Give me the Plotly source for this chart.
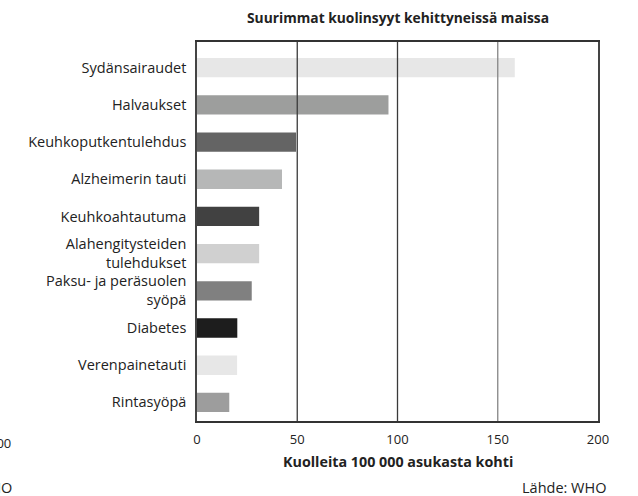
import plotly.graph_objects as go

categories = [
    "Sydänsairaudet",
    "Halvaukset",
    "Keuhkoputkentulehdus",
    "Alzheimerin tauti",
    "Keuhkoahtautuma",
    "Alahengitysteiden<br>tulehdukset",
    "Paksu- ja peräsuolen<br>syöpä",
    "Diabetes",
    "Verenpainetauti",
    "Rintasyöpä",
]
values = [158.5, 95.5, 49.4, 42.4, 31.0, 31.0, 27.3, 20.1, 20.0, 16.1]
colors = ["#e7e7e7", "#9d9e9d", "#646464", "#b6b7b7", "#414141",
          "#d0d0d0", "#808080", "#1d1d1d", "#e7e7e7", "#9d9d9d"]
x_ticks = [0, 50, 100, 150, 200]
grid_colors = {50: "#3a3a3a", 100: "#3a3a3a", 150: "#858585"}

title = "Suurimmat kuolinsyyt kehittyneissä maissa"
x_title = "Kuolleita 100 000 asukasta kohti"
source = "Lähde: WHO"

FONT = "Open Sans"

fig = go.Figure(go.Bar(
    x=values, y=categories, orientation="h",
    marker=dict(color=colors, line=dict(width=0)),
    width=0.52,
))

shapes = []
for v, c in grid_colors.items():
    shapes.append(dict(type="line", xref="x", yref="paper", x0=v, x1=v, y0=0, y1=1,
                       line=dict(color=c, width=1.3), layer="above"))

fig.update_layout(
    width=638, height=496,
    margin=dict(l=197, r=40, t=42, b=75),
    paper_bgcolor="white", plot_bgcolor="white",
    font=dict(family=FONT, color="#222", size=13),
    showlegend=False,
    shapes=shapes,
    xaxis=dict(range=[0, 200], tickvals=x_ticks, showgrid=False, zeroline=False,
               showline=True, mirror=True, linecolor="#333", linewidth=1.5,
               ticks="", ticklabelstandoff=6, tickfont=dict(size=13, family=FONT, color="#222"),
               fixedrange=True),
    yaxis=dict(type="category", categoryorder="array", categoryarray=categories,
               range=[9.5, -0.69], showgrid=False, zeroline=False,
               showline=True, mirror=True, linecolor="#444", linewidth=1.5,
               ticks="", ticklabelstandoff=6, tickfont=dict(size=14.5, family=FONT, color="#222"),
               fixedrange=True),
    annotations=[
        dict(text="<b>" + title + "</b>", xref="paper", yref="paper", x=0.5, y=1.0,
             yshift=25, xanchor="center", yanchor="middle", showarrow=False,
             font=dict(size=13.8, family=FONT, color="#222")),
        dict(text="<b>" + x_title + "</b>", xref="paper", yref="paper", x=0.5, y=0,
             yshift=-40, xanchor="center", yanchor="middle", showarrow=False,
             font=dict(size=14.3, family=FONT, color="#222")),
        dict(text=source, xref="paper", yref="paper", x=1.025, y=0,
             yshift=-66, xanchor="right", yanchor="middle", showarrow=False,
             font=dict(size=14.5, family=FONT, color="#222")),
        dict(text="100", xref="paper", yref="paper", x=-0.459, y=0,
             yshift=-22, xanchor="right", yanchor="middle", showarrow=False,
             font=dict(size=13, family=FONT, color="#222")),
        dict(text="WHO", xref="paper", yref="paper", x=-0.456, y=0,
             yshift=-66, xanchor="right", yanchor="middle", showarrow=False,
             font=dict(size=14.5, family=FONT, color="#222")),
    ],
)

fig.write_html("out.html", config={"displayModeBar": False},
               post_script="document.body.style.margin='0';document.body.style.overflow='hidden';")
